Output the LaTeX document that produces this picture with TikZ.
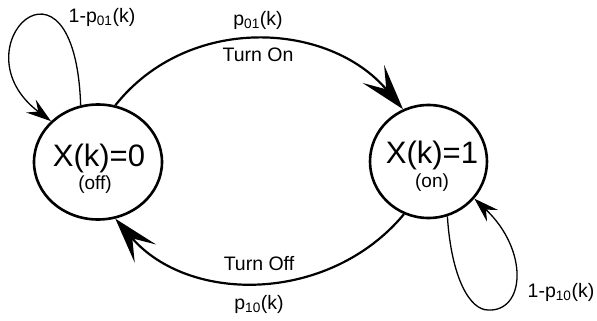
\documentclass[tikz,border=0pt]{standalone}
\usepackage{fontspec}
\setmainfont{Liberation Sans}
\usetikzlibrary{positioning,arrows.meta,shapes.geometric}

\begin{document}
\begin{tikzpicture}[
    x=1pt, y=-1pt,
    statenode/.style={ellipse, draw, line width=2.6pt, inner sep=0pt},
    statetxt/.style={font=\fontsize{31}{31}\selectfont, inner sep=0pt},
    subtxt/.style={font=\fontsize{19}{19}\selectfont, inner sep=0pt},
    lbl/.style={font=\fontsize{19.5}{19.5}\selectfont, inner sep=0pt},
    trans/.style={line width=2.2pt, -{Stealth[length=46pt, width=28pt, inset=20pt]}},
    selfloop/.style={line width=1.3pt, -{Stealth[length=25pt, width=16pt, inset=9pt]}}
]
\useasboundingbox (0,0) rectangle (597,321);

% States
\node[statenode, minimum width=128pt, minimum height=115pt] (s0) at (98,162) {};
\node[statenode, minimum width=117pt, minimum height=113pt] (s1) at (428.5,161.5) {};
\node[statetxt] (s0name) at ([xshift=1pt, yshift=4pt]s0.center) {X(k)=0};
\node[subtxt] (s0sub) at ([xshift=-3pt, yshift=-23pt]s0.center) {(off)};
\node[statetxt] (s1name) at ([xshift=3.5pt, yshift=6.5pt]s1.center) {X(k)=1};
\node[subtxt] (s1sub) at ([xshift=3.5pt, yshift=-21.5pt]s1.center) {(on)};

% Turn on / turn off
\draw[trans] (s0.73) .. controls +(73,-92) and +(-74,-88) .. (s1.116);
\draw[trans] (s1.245) .. controls +(-74,89) and +(74,86) .. (s0.287);
\node[lbl] (pon) at (258,20) {p\textsubscript{01}(k)};
\node[lbl] (ton) at (258,55) {Turn On};
\node[lbl] (toff) at (259,264) {Turn Off};
\node[lbl] (poff) at (259,304) {p\textsubscript{10}(k)};

% Self loops
\coordinate (loopbot) at (488,310);
\draw[selfloop] (s0.107) .. controls +(-6,-174) and +(-97,-73) .. (s0.139);
\draw[selfloop] (s1.289) .. controls +(4,62) and +(-18,0) .. (loopbot)
    .. controls +(37,2) and +(55,52) .. (s1.321);
\node[lbl] (stay0) at (102,17) {1-p\textsubscript{01}(k)};
\node[lbl] (stay1) at (561,292) {1-p\textsubscript{10}(k)};

\end{tikzpicture}
\end{document}
